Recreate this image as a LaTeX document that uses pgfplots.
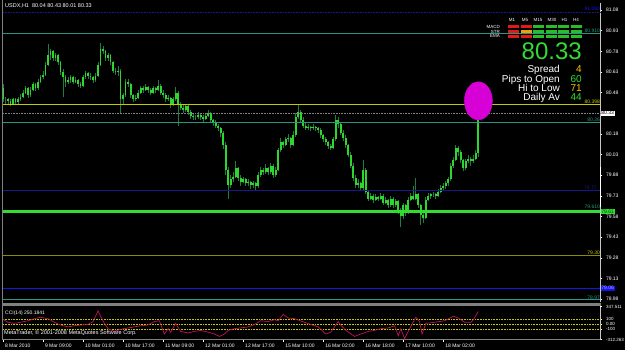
\documentclass[border=0pt]{standalone}
\usepackage{pgfplots}
\pgfplotsset{compat=1.18}
\usepackage{pgfplotstable}
\usepackage{fontspec}
\setmainfont{Liberation Sans}
\setsansfont{Liberation Sans}
\newcommand\fs[1]{\fontsize{#1}{#1}\selectfont}
\definecolor{wick}{RGB}{30,125,60}
\definecolor{bodyg}{RGB}{45,215,45}
\definecolor{tealc}{RGB}{40,150,130}
\definecolor{yell}{RGB}{200,200,0}
\definecolor{olivec}{RGB}{140,140,0}
\definecolor{navyc}{RGB}{25,25,140}
\definecolor{bluc}{RGB}{20,20,235}
\definecolor{limeg}{RGB}{50,220,50}
\definecolor{goldc}{RGB}{240,200,0}
\definecolor{ccic}{RGB}{190,20,90}
\definecolor{axisg}{RGB}{128,128,128}
\definecolor{lgray}{RGB}{200,200,200}
\definecolor{magc}{RGB}{215,0,215}
\definecolor{redb}{RGB}{225,25,25}
\definecolor{greenb}{RGB}{40,190,40}
\definecolor{orangeb}{RGB}{240,160,0}

\pgfplotstableread{
i o h l c
0 80.51 80.54 80.41 80.43
1 80.43 80.45 80.40 80.43
2 80.43 80.44 80.40 80.42
3 80.42 80.43 80.38 80.40
4 80.40 80.44 80.39 80.43
5 80.43 80.44 80.39 80.41
6 80.41 80.45 80.40 80.43
7 80.43 80.47 80.42 80.45
8 80.45 80.50 80.44 80.48
9 80.48 80.53 80.47 80.51
10 80.51 80.52 80.44 80.46
11 80.46 80.52 80.45 80.50
12 80.50 80.56 80.49 80.54
13 80.54 80.55 80.49 80.51
14 80.51 80.58 80.50 80.56
15 80.56 80.61 80.55 80.59
16 80.59 80.64 80.58 80.61
17 80.61 80.70 80.60 80.68
18 80.68 80.83 80.67 80.75
19 80.75 80.80 80.72 80.78
20 80.78 80.79 80.71 80.73
21 80.73 80.77 80.71 80.75
22 80.75 80.76 80.68 80.70
23 80.70 80.71 80.61 80.63
24 80.63 80.65 80.45 80.59
25 80.59 80.61 80.52 80.56
26 80.56 80.59 80.54 80.57
27 80.57 80.61 80.55 80.59
28 80.59 80.60 80.54 80.56
29 80.56 80.59 80.55 80.57
30 80.57 80.58 80.52 80.54
31 80.54 80.56 80.51 80.53
32 80.53 80.61 80.52 80.59
33 80.59 80.64 80.58 80.62
34 80.62 80.63 80.58 80.60
35 80.60 80.62 80.57 80.59
36 80.59 80.60 80.55 80.57
37 80.57 80.62 80.56 80.60
38 80.60 80.70 80.59 80.68
39 80.68 80.84 80.67 80.80
40 80.80 80.82 80.76 80.78
41 80.78 80.79 80.71 80.73
42 80.73 80.77 80.71 80.75
43 80.75 80.76 80.68 80.70
44 80.70 80.71 80.62 80.64
45 80.64 80.66 80.61 80.63
46 80.63 80.67 80.60 80.64
47 80.64 80.65 80.33 80.43
48 80.43 80.48 80.40 80.46
49 80.46 80.58 80.45 80.56
50 80.56 80.58 80.52 80.54
51 80.54 80.55 80.44 80.46
52 80.46 80.47 80.41 80.43
53 80.43 80.46 80.42 80.44
54 80.44 80.50 80.43 80.48
55 80.48 80.53 80.47 80.51
56 80.51 80.53 80.48 80.50
57 80.50 80.54 80.49 80.52
58 80.52 80.53 80.48 80.50
59 80.50 80.51 80.46 80.48
60 80.48 80.53 80.47 80.51
61 80.51 80.52 80.48 80.50
62 80.50 80.57 80.49 80.53
63 80.53 80.54 80.46 80.48
64 80.48 80.50 80.44 80.46
65 80.46 80.48 80.41 80.43
66 80.43 80.46 80.42 80.44
67 80.44 80.45 80.37 80.39
68 80.39 80.45 80.38 80.43
69 80.43 80.52 80.42 80.48
70 80.48 80.49 80.24 80.39
71 80.39 80.41 80.35 80.37
72 80.37 80.39 80.33 80.35
73 80.35 80.40 80.34 80.38
74 80.38 80.39 80.32 80.34
75 80.34 80.35 80.29 80.31
76 80.31 80.33 80.28 80.30
77 80.30 80.32 80.28 80.30
78 80.30 80.34 80.29 80.32
79 80.32 80.33 80.28 80.30
80 80.30 80.32 80.27 80.29
81 80.29 80.33 80.28 80.31
82 80.31 80.35 80.30 80.33
83 80.33 80.34 80.26 80.28
84 80.28 80.29 80.24 80.26
85 80.26 80.28 80.22 80.24
86 80.24 80.25 80.20 80.22
87 80.22 80.23 80.16 80.19
88 80.19 80.20 80.07 80.10
89 80.10 80.12 79.88 79.92
90 79.92 79.94 79.71 79.81
91 79.81 79.88 79.79 79.85
92 79.85 79.90 79.83 79.87
93 79.87 79.98 79.86 79.93
94 79.93 79.94 79.84 79.86
95 79.86 79.88 79.80 79.83
96 79.83 79.87 79.82 79.85
97 79.85 79.86 79.80 79.82
98 79.82 79.85 79.80 79.83
99 79.83 79.84 79.78 79.81
100 79.81 79.84 79.79 79.82
101 79.82 79.83 79.77 79.80
102 79.80 79.90 79.79 79.88
103 79.88 79.94 79.87 79.92
104 79.92 79.93 79.88 79.90
105 79.90 79.96 79.89 79.93
106 79.93 79.94 79.88 79.90
107 79.90 79.97 79.89 79.95
108 79.95 79.96 79.86 79.88
109 79.88 79.94 79.87 79.92
110 79.92 80.08 79.91 80.06
111 80.06 80.15 80.05 80.12
112 80.12 80.13 80.08 80.10
113 80.10 80.16 80.09 80.14
114 80.14 80.18 80.12 80.15
115 80.15 80.16 80.08 80.10
116 80.10 80.20 80.09 80.17
117 80.17 80.33 80.16 80.30
118 80.30 80.40 80.29 80.34
119 80.34 80.35 80.26 80.28
120 80.28 80.30 80.22 80.24
121 80.24 80.26 80.21 80.22
122 80.22 80.25 80.21 80.23
123 80.23 80.24 80.20 80.22
124 80.22 80.25 80.21 80.23
125 80.23 80.24 80.20 80.22
126 80.22 80.23 80.19 80.21
127 80.21 80.22 80.15 80.17
128 80.17 80.18 80.12 80.14
129 80.14 80.16 80.10 80.12
130 80.12 80.13 80.07 80.09
131 80.09 80.11 80.06 80.08
132 80.08 80.16 80.07 80.14
133 80.14 80.32 80.13 80.28
134 80.28 80.30 80.22 80.25
135 80.25 80.26 80.17 80.19
136 80.19 80.21 80.13 80.15
137 80.15 80.17 80.08 80.10
138 80.10 80.11 80.01 80.03
139 80.03 80.05 79.93 79.95
140 79.95 79.97 79.84 79.86
141 79.86 79.88 79.79 79.81
142 79.81 79.85 79.79 79.82
143 79.82 79.83 79.77 79.79
144 79.79 79.99 79.77 79.92
145 79.92 79.93 79.74 79.76
146 79.76 79.77 79.69 79.71
147 79.71 79.75 79.70 79.73
148 79.73 79.74 79.68 79.70
149 79.70 79.74 79.69 79.72
150 79.72 79.73 79.69 79.71
151 79.71 79.75 79.70 79.73
152 79.73 79.74 79.66 79.68
153 79.68 79.72 79.67 79.70
154 79.70 79.71 79.64 79.66
155 79.66 79.73 79.65 79.71
156 79.71 79.72 79.64 79.66
157 79.66 79.71 79.65 79.69
158 79.69 79.70 79.60 79.63
159 79.63 79.64 79.50 79.58
160 79.58 79.68 79.56 79.66
161 79.66 79.67 79.58 79.61
162 79.61 79.72 79.60 79.70
163 79.70 79.75 79.69 79.73
164 79.73 79.80 79.70 79.71
165 79.71 79.86 79.70 79.74
166 79.74 79.75 79.64 79.66
167 79.66 79.67 79.52 79.59
168 79.59 79.62 79.53 79.57
169 79.57 79.72 79.56 79.70
170 79.70 79.75 79.69 79.73
171 79.73 79.75 79.71 79.74
172 79.74 79.76 79.72 79.74
173 79.74 79.75 79.71 79.73
174 79.73 79.78 79.72 79.76
175 79.76 79.81 79.75 79.79
176 79.79 79.82 79.77 79.80
177 79.80 79.84 79.78 79.82
178 79.82 79.87 79.80 79.85
179 79.85 79.97 79.84 79.95
180 79.95 80.01 79.93 79.99
181 79.99 80.10 79.98 80.08
182 80.08 80.09 80.02 80.05
183 80.05 80.06 79.97 79.99
184 79.99 80.00 79.91 79.93
185 79.93 80.00 79.92 79.98
186 79.98 80.03 79.97 80.00
187 80.00 80.01 79.95 79.98
188 79.98 80.03 79.97 80.00
189 80.00 80.06 79.99 80.04
190 80.04 80.43 80.01 80.33
}\bars

\pgfplotstableread{
i v
0 90
2 34
4.5 13
7 34
10 64
12.5 106
15 134
18 106
20.5 34
23 -21
26 -58
28.5 -36
31 -21
34 -9
36 49
38 262
39 155
40.5 13
42 -94
44.5 -149
47 -106
50 -79
52.5 -58
55 -36
58 -21
60.5 49
62.5 64
64.5 -200
66 -94
67 -164
69 13
71 -149
74 -179
76.5 -149
79 -128
82 -164
84.5 -200
86.5 -249
88.5 -200
90 -128
92.5 -94
95 -79
98 -58
100.5 -9
103 64
106 49
108.5 85
110 64
112 192
114 119
116.5 106
119 60
123 -9
126 -58
129 -200
131 -164
134 49
135 -21
137 -128
140.5 -249
143 -200
146 -149
148.5 -128
151 -94
154 -79
156.5 -36
158 -234
159 -94
160.5 -292
162.5 -94
165 134
166.5 49
167.5 -200
169 13
172.5 34
176.5 64
180 155
182 119
184.5 34
187 34
188 85
190 250
}\cci

\begin{document}
\begin{tikzpicture}
\fill[black] (0,0) rectangle (625pt,350pt);

\begin{axis}[
  at={(3pt,47.5pt)}, anchor=south west, scale only axis,
  width=597pt, height=299.5pt,
  xmin=0, xmax=238.8, ymin=78.955, ymax=81.131,
  axis x line=none, axis y line*=right,
  y axis line style={draw=lgray, line width=0.8pt, -},
  ytick={78.98,79.13,79.28,79.43,79.58,79.73,79.88,80.03,80.18,80.48,80.63,80.78,80.93,81.08},
  yticklabel style={font=\fs{5}, text=white, /pgf/number format/.cd, fixed, fixed zerofill, precision=2, assume math mode=true},
  y tick style={draw=white, line width=0.4pt}, major tick length=2pt, tick align=outside,
  clip=false,
]
% marker ellipse
\addplot[only marks, mark=*, mark size=14pt, mark options={fill=magc, draw=magc, yscale=1.36}] coordinates {(190,80.42)};
% wicks
\addplot[draw=none, mark=none, error bars/.cd, y dir=plus, y explicit, error mark=none,
  error bar style={draw=wick, line width=0.9pt, solid}]
  table[x=i, y=l, y error plus expr={\thisrow{h}-\thisrow{l}}] {\bars};
% bodies
\addplot[draw=none, mark=none, error bars/.cd, y dir=plus, y explicit, error mark=none,
  error bar style={draw=bodyg, line width=1.8pt, solid}]
  table[x=i, y expr={min(\thisrow{o},\thisrow{c})}, y error plus expr={abs(\thisrow{c}-\thisrow{o})}] {\bars};
% horizontal lines
\addplot[navyc, densely dotted, line width=0.6pt] coordinates {(0,81.06) (238.8,81.06)};
\addplot[tealc, line width=0.7pt] coordinates {(0,80.91) (238.8,80.91)};
\addplot[yell, line width=0.7pt] coordinates {(0,80.398) (238.8,80.398)};
\addplot[axisg, densely dotted, line width=0.6pt] coordinates {(0,80.33) (238.8,80.33)};
\addplot[tealc, line width=0.7pt] coordinates {(0,80.266) (238.8,80.266)};
\addplot[navyc, line width=0.7pt] coordinates {(0,79.772) (238.8,79.772)};
\addplot[limeg, line width=2.4pt] coordinates {(0,79.615) (238.8,79.615)};
\addplot[olivec, line width=1pt] coordinates {(0,79.30) (238.8,79.30)};
\addplot[bluc, line width=0.8pt] coordinates {(0,79.06) (238.8,79.06)};
\addplot[tealc, line width=0.7pt] coordinates {(0,78.975) (238.8,78.975)};
% line labels
\node[anchor=south east, inner sep=0.4pt, font=\fs{5}, text=bluc] at (axis cs:238.8,81.07) {81.060};
\node[anchor=south east, inner sep=0.4pt, font=\fs{5}, text=tealc] at (axis cs:238.8,80.91) {80.910};
\node[anchor=south east, inner sep=0.4pt, font=\fs{5}, text=yell] at (axis cs:238.8,80.398) {80.398};
\node[anchor=south east, inner sep=0.4pt, font=\fs{5}, text=tealc] at (axis cs:238.8,80.266) {80.26};
\node[anchor=south east, inner sep=0.4pt, font=\fs{5}, text=navyc] at (axis cs:237.5,79.772) {79.77};
\node[anchor=south east, inner sep=0.4pt, font=\fs{5}, text=tealc] at (axis cs:238.8,79.63) {79.610};
\node[anchor=south east, inner sep=0.4pt, font=\fs{5}, text=yell] at (axis cs:238.8,79.30) {79.30};
\node[anchor=south east, inner sep=0.4pt, font=\fs{5}, text=tealc] at (axis cs:238.8,78.975) {78.97};
% price boxes
\draw[white, line width=1.4pt] (axis cs:238.8,79.94) -- (axis cs:238.8,79.65);
\node[anchor=west, fill=white, text=black, font=\fs{5}, inner sep=0.7pt] at (axis cs:238.8,80.33) {80.33};
\node[anchor=west, fill=limeg, text=black!70!green, font=\fs{5}, inner sep=0.7pt] at (axis cs:238.8,79.615) {79.61};
\node[anchor=west, fill=bluc, text=white!70!blue, font=\fs{5}, inner sep=0.7pt] at (axis cs:238.8,79.06) {79.06};
\end{axis}

\begin{axis}[
  at={(3pt,10.4pt)}, anchor=south west, scale only axis,
  width=597pt, height=33pt,
  xmin=0, xmax=238.8, ymin=-312.263, ymax=347.511,
  axis x line*=bottom, axis y line*=right,
  x axis line style={draw=axisg, line width=0.8pt, -},
  y axis line style={draw=lgray, line width=0.8pt, -},
  xtick={0,16,32,48,64,80,96,112,128,144,160,176},
  xticklabels={8 Mar 2010,9 Mar 09:00,10 Mar 01:00,10 Mar 17:00,11 Mar 09:00,12 Mar 01:00,12 Mar 17:00,15 Mar 10:00,16 Mar 02:00,16 Mar 18:00,17 Mar 10:00,18 Mar 02:00},
  xticklabel style={font=\fs{5}, text=white, anchor=north west, xshift=-1.5pt, yshift=1pt},
  ytick={-312.263,-100,0,100,347.511},
  yticklabels={-312.263,-100,0.00,100,347.511},
  yticklabel style={font=\fs{4.5}, text=white, anchor=west},
  tick style={draw=white, line width=0.4pt}, major tick length=2pt, tick align=outside,
  clip=false,
]
\addplot[yell, densely dotted, line width=0.6pt] coordinates {(0,100) (238.8,100)};
\addplot[yell, densely dotted, line width=0.6pt] coordinates {(0,0) (238.8,0)};
\addplot[yell, densely dotted, line width=0.6pt] coordinates {(0,-100) (238.8,-100)};
\addplot[ccic, line width=0.7pt] table[x=i, y=v] {\cci};
\end{axis}

% frame pieces
\draw[axisg, line width=1pt] (2.5pt,10.4pt) -- (2.5pt,350pt);
\fill[axisg] (2pt,44pt) rectangle (601pt,47pt);

% titles
\node[anchor=west, font=\fs{5.5}, text=white, inner sep=0pt] at (5pt,344pt) {USDX,H1\ \ 80.04 80.43 80.01 80.33};
\node[anchor=west, font=\fs{5}, text=white, inner sep=0pt] at (5pt,37pt) {CCI(14) 250.1841};
\node[anchor=west, font=\fs{5.5}, text=white, inner sep=0pt] at (4pt,17pt) {MetaTrader, © 2001-2008 MetaQuotes Software Corp.};

% info panel
\foreach \lab/\yy in {MACD/323, STR/318.5, EMA/314}
  \node[anchor=east, font=\fs{4.5}, text=white, inner sep=0pt] at (500pt,\yy pt) {\lab};
\foreach \lab/\xx in {M1/512, M5/525, M15/538, M30/552, H1/564.5, H4/576}
  \node[font=\fs{4.5}, text=white, inner sep=0pt] at (\xx pt,330pt) {\lab};
\foreach \col [count=\k from 0] in {redb,redb,greenb,greenb,greenb,greenb}
  \fill[\col] ({(508+12.5*\k)*1pt},321.5pt) rectangle ({(519+12.5*\k)*1pt},325pt);
\foreach \col [count=\k from 0] in {redb,orangeb,greenb,greenb,greenb,greenb}
  \fill[\col] ({(508+12.5*\k)*1pt},316.5pt) rectangle ({(519+12.5*\k)*1pt},320pt);
\foreach \col [count=\k from 0] in {redb,redb,greenb,greenb,greenb,greenb}
  \fill[\col] ({(508+12.5*\k)*1pt},311.5pt) rectangle ({(519+12.5*\k)*1pt},315pt);
\node[anchor=base east, font=\fs{24}, text=limeg, inner sep=0pt] at (582pt,290.5pt) {80.33};
\node[anchor=base east, font=\fs{10}, text=white, inner sep=0pt] at (560pt,277pt) {Spread};
\node[anchor=base east, font=\fs{10}, text=white, inner sep=0pt] at (560pt,267.5pt) {Pips to Open};
\node[anchor=base east, font=\fs{10}, text=white, inner sep=0pt] at (560pt,258pt) {Hi to Low};
\node[anchor=base east, font=\fs{10}, text=white, inner sep=0pt] at (560pt,249pt) {Daily Av};
\node[anchor=base east, font=\fs{10}, text=goldc, inner sep=0pt] at (582pt,277pt) {4};
\node[anchor=base east, font=\fs{10}, text=limeg, inner sep=0pt] at (582pt,267.5pt) {60};
\node[anchor=base east, font=\fs{10}, text=goldc, inner sep=0pt] at (582pt,258pt) {71};
\node[anchor=base east, font=\fs{10}, text=limeg, inner sep=0pt] at (582pt,249pt) {44};

\pgfresetboundingbox
\path (0,0) rectangle (625pt,350pt);
\end{tikzpicture}
\end{document}
